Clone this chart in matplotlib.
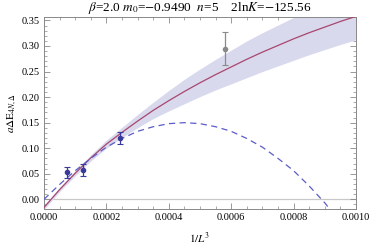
import matplotlib
matplotlib.use("Agg")
import matplotlib.pyplot as plt
from matplotlib.ticker import MultipleLocator, FormatStrFormatter

plt.rcParams['font.family'] = ['Liberation Serif', 'DejaVu Serif']
plt.rcParams['mathtext.fontset'] = 'stix'

# data points (1/L^3, value, error)
x_pts = [1/13824, 1/8000, 1/4096]
y_pts = [0.053, 0.057, 0.120]
e_pts = [0.011, 0.012, 0.0125]
x_gray = [1/1728]
y_gray = [0.295]
e_gray = [0.032]

# curves
x_curve = [0.0, 0.00005, 0.0001, 0.00015, 0.0002, 0.00025, 0.0003, 0.00035, 0.0004, 0.00045,
           0.0005, 0.00055, 0.0006, 0.00065, 0.0007, 0.00075, 0.0008, 0.00085, 0.0009, 0.00095, 0.001]
fit_mid = [-0.016, 0.019, 0.051, 0.081, 0.108, 0.131, 0.153, 0.174, 0.193, 0.211,
           0.228, 0.244, 0.259, 0.274, 0.288, 0.301, 0.314, 0.326, 0.337, 0.348, 0.358]
fit_up = [-0.012, 0.023, 0.056, 0.087, 0.116, 0.141, 0.166, 0.190, 0.213, 0.235,
          0.255, 0.274, 0.292, 0.310, 0.326, 0.341, 0.356, 0.369, 0.381, 0.393, 0.404]
fit_lo = [-0.020, 0.015, 0.046, 0.075, 0.100, 0.121, 0.140, 0.158, 0.173, 0.187,
          0.201, 0.214, 0.226, 0.238, 0.250, 0.261, 0.272, 0.283, 0.293, 0.303, 0.312]
dash_y = [0.000, 0.029, 0.056, 0.080, 0.102, 0.119, 0.133, 0.142, 0.148, 0.150,
          0.148, 0.142, 0.133, 0.119, 0.102, 0.080, 0.056, 0.026, -0.007, -0.045, -0.088]

fig = plt.figure(figsize=(3.74, 2.48), dpi=100)
ax = fig.add_axes([44/374, (248-209)/248, 312/374, (209-16.5)/248])

ax.axhline(0, color='#c8c8c8', lw=0.9, zorder=1)
ax.fill_between(x_curve, fit_lo, fit_up, color='#d9d9ee', lw=0, zorder=2)
ax.plot(x_curve, fit_mid, color='#a8466e', lw=0.9, zorder=3)
ax.plot(x_curve, dash_y, color='#5c5cc8', lw=0.9, ls=(0, (5, 3.5)), zorder=3)
ax.errorbar(x_pts, y_pts, yerr=e_pts, fmt='o', color='#3a3a9c', ms=3, lw=0.9,
            capsize=2.5, capthick=0.8, zorder=4)
ax.errorbar(x_gray, y_gray, yerr=e_gray, fmt='o', color='#8a8a8a', ms=3, lw=0.9,
            capsize=2.5, capthick=0.8, zorder=4)

ax.set_xlim(0, 0.001)
ax.set_ylim(-0.019, 0.3577)
ax.xaxis.set_major_locator(MultipleLocator(0.0002))
ax.xaxis.set_minor_locator(MultipleLocator(0.00005))
ax.yaxis.set_major_locator(MultipleLocator(0.05))
ax.yaxis.set_minor_locator(MultipleLocator(0.01))
ax.xaxis.set_major_formatter(FormatStrFormatter('%.4f'))
ax.yaxis.set_major_formatter(FormatStrFormatter('%.2f'))
ax.tick_params(which='both', direction='in', top=True, right=True, color='#888888',
               labelsize=7.5, pad=3)
ax.tick_params(which='major', length=4, width=0.6)
ax.tick_params(which='minor', length=2, width=0.5)
for s in ax.spines.values():
    s.set_color('#888888')
    s.set_linewidth(0.7)

ax.set_xlabel(r'$1/L^3$', fontsize=8, labelpad=6)
ax.set_ylabel(r'$a\Delta\mathrm{E}_{4N,\Delta}$', fontsize=8, labelpad=2)
ax.set_title(r'$\beta$=2.0 $m_0$=$-$0.9490  $n$=5    2ln$K$=$-$125.56', fontsize=9.5, pad=2)

fig.savefig('out.png', dpi=100)
